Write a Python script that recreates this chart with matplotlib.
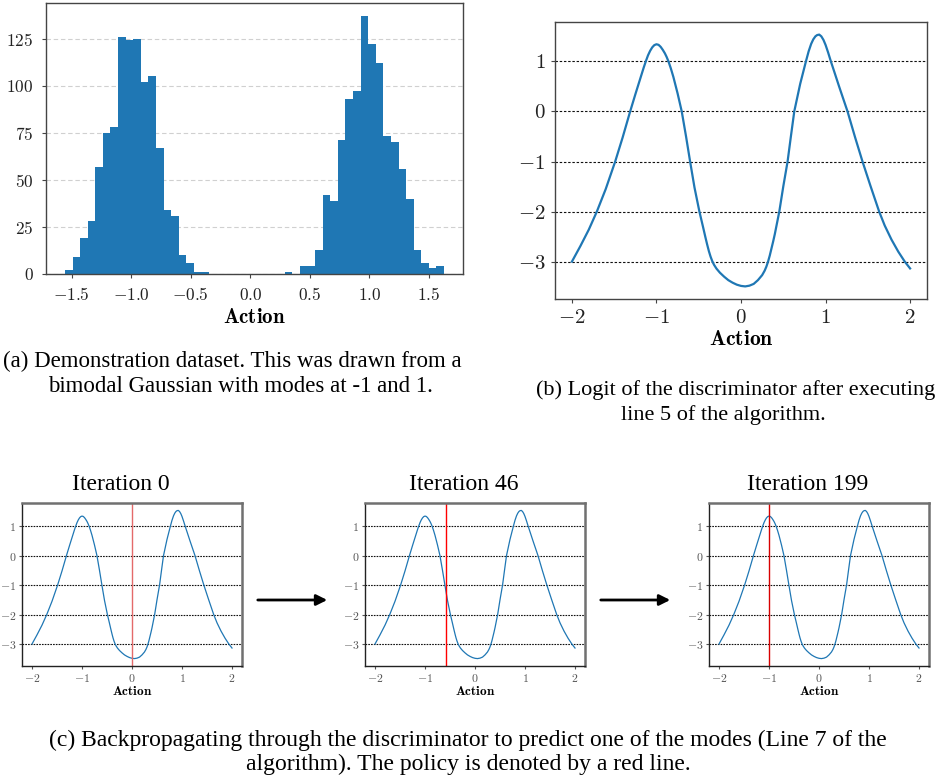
import numpy as np
import matplotlib
matplotlib.use("Agg")
import matplotlib.pyplot as plt


# =========================
# Data
# =========================

# histogram of the demonstration dataset: 50 bins between these edges
BIN_LO = -1.556
BIN_HI = 1.626
HIST_COUNTS = [2, 9, 19, 28, 57, 75, 78, 126, 124, 125, 102, 105, 67, 34, 31, 10, 6, 1, 1,
               0, 0, 0, 0, 0, 0, 0, 0, 0, 0,
               1, 0, 4, 4, 13, 42, 39, 71, 93, 97, 137, 122, 112, 73, 70, 56, 40, 13, 6, 3, 4]
HIST_YTICKS = [0, 25, 50, 75, 100, 125]

# logit of the discriminator
ACTION = [-2.0, -1.9, -1.8, -1.705, -1.6, -1.488, -1.4, -1.311, -1.25, -1.2,
          -1.15, -1.126, -1.1, -1.075, -1.05, -1.025, -1.0, -0.975, -0.95, -0.925,
          -0.9, -0.88, -0.858, -0.83, -0.8, -0.75, -0.701, -0.65, -0.602, -0.55,
          -0.492, -0.45, -0.42, -0.4, -0.38, -0.36, -0.34, -0.32, -0.29, -0.25,
          -0.2, -0.15, -0.1, -0.05, 0.0, 0.05, 0.1, 0.15, 0.2, 0.25,
          0.28, 0.3, 0.32, 0.34, 0.36, 0.38, 0.4, 0.453, 0.5, 0.551,
          0.59, 0.63, 0.7, 0.768, 0.8, 0.83, 0.855, 0.88, 0.9, 0.925,
          0.95, 0.975, 1.0, 1.03, 1.063, 1.1, 1.16, 1.21, 1.26, 1.35,
          1.437, 1.53, 1.634, 1.7, 1.78, 1.86, 1.937, 2.0]
LOGIT = [-3.0, -2.69, -2.36, -2.0, -1.55, -1.0, -0.52, 0.0, 0.34, 0.61,
         0.88, 1.0, 1.12, 1.21, 1.28, 1.325, 1.342, 1.33, 1.29, 1.23,
         1.16, 1.09, 1.0, 0.86, 0.69, 0.36, 0.0, -0.5, -1.0, -1.52,
         -2.0, -2.3, -2.52, -2.66, -2.79, -2.9, -2.99, -3.06, -3.14, -3.22,
         -3.3, -3.37, -3.42, -3.46, -3.485, -3.495, -3.48, -3.445, -3.37, -3.27,
         -3.18, -3.1, -3.0, -2.88, -2.74, -2.6, -2.45, -2.0, -1.5, -1.0,
         -0.5, 0.0, 0.55, 1.0, 1.2, 1.35, 1.44, 1.5, 1.525, 1.535,
         1.5, 1.43, 1.33, 1.18, 1.0, 0.81, 0.5, 0.25, 0.0, -0.52,
         -1.0, -1.48, -2.0, -2.28, -2.56, -2.8, -3.0, -3.136]
LOGIT_YTICKS = [-3, -2, -1, 0, 1]
LOGIT_XTICKS = [-2, -1, 0, 1, 2]

# policy at a few iterations
ITERATIONS = [0, 46, 199]
POLICY = [0.0, -0.58, -1.0]
POLICY_COLORS = ["#e46a6a", "red", "#d80000"]

CAPTION_A = ["(a) Demonstration dataset. This was drawn from a",
             "bimodal Gaussian with modes at -1 and 1."]
CAPTION_B = ["(b) Logit of the discriminator after executing",
             "line 5 of the algorithm."]
CAPTION_C = ["(c) Backpropagating through the discriminator to predict one of the modes (Line 7 of the",
             "algorithm). The policy is denoted by a red line."]

# =========================
# Style
# =========================
plt.rcParams["font.family"] = "serif"
plt.rcParams["font.serif"] = ["cmr10"]
plt.rcParams["mathtext.fontset"] = "cm"
plt.rcParams["axes.formatter.use_mathtext"] = True

W, H = 937, 780
BLUE = "#1f77b4"
CAP_FONT = "Liberation Serif"


def px_axes(fig, left, top, right, bottom):
    return fig.add_axes([left / W, 1 - bottom / H, (right - left) / W, (bottom - top) / H])


def frame(ax, color, lw):
    for s in ax.spines.values():
        s.set_color(color)
        s.set_linewidth(lw)


fig = plt.figure(figsize=(W / 100, H / 100), dpi=100)

# =========================
# (a) histogram
# =========================
ax = px_axes(fig, 46, 3, 463, 274)
edges = np.linspace(BIN_LO, BIN_HI, len(HIST_COUNTS) + 1)
ax.hist(edges[:-1], bins=edges, weights=HIST_COUNTS, color=BLUE, zorder=2)
ax.set_yticks(HIST_YTICKS)
ax.set_xticks([-1.5, -1.0, -0.5, 0.0, 0.5, 1.0, 1.5])
ax.grid(axis="y", color="#d0d0d0", linestyle=(0, (4, 2.5)), linewidth=0.8, zorder=0)
ax.set_axisbelow(True)
ax.tick_params(labelsize=12.5, labelcolor="#222222", color="#444444", length=3, pad=6)
ax.set_xlabel(r"$\mathbf{Action}$", fontsize=15, labelpad=3)
frame(ax, "#444444", 1.0)

for i, line in enumerate(CAPTION_A):
    fig.text([232 / W, 240 / W][i], 1 - [367, 392][i] / H, line, family=CAP_FONT,
             fontsize=16.5, ha="center", va="baseline")

# =========================
# (b) logit of the discriminator
# =========================
ax = px_axes(fig, 555, 22, 927, 299)
ax.plot(ACTION, LOGIT, color=BLUE, linewidth=1.6)
ax.set_xticks(LOGIT_XTICKS)
ax.set_yticks(LOGIT_YTICKS)
ax.grid(axis="y", color="#111111", linestyle=(0, (2.2, 1.6)), linewidth=0.8)
ax.tick_params(labelsize=15, labelcolor="#222222", color="#444444", length=3, pad=4)
ax.set_xlabel(r"$\mathbf{Action}$", fontsize=15.5, labelpad=2)
frame(ax, "#444444", 1.0)

for i, line in enumerate(CAPTION_B):
    fig.text([736 / W, 723 / W][i], 1 - [395, 420][i] / H, line, family=CAP_FONT,
             fontsize=16, ha="center", va="baseline")

# =========================
# (c) policy over iterations
# =========================
lefts = [22, 365, 709]
for k, (it, pol) in enumerate(zip(ITERATIONS, POLICY)):
    left = lefts[k]
    ax = px_axes(fig, left, 503, left + 220, 666)
    ax.plot(ACTION, LOGIT, color=BLUE, linewidth=0.9)
    ax.axvline(pol, color=POLICY_COLORS[k], linewidth=1.0)
    ax.set_xticks(LOGIT_XTICKS)
    ax.set_yticks(LOGIT_YTICKS)
    ax.grid(axis="y", color="#111111", linestyle=(0, (1.5, 1.0)), linewidth=0.8)
    ax.tick_params(labelsize=8.5, labelcolor="#555555", color="#555555", length=2, pad=2)
    ax.set_xlabel(r"$\mathbf{Action}$", fontsize=9.5, labelpad=1)
    frame(ax, "#222222", 1.0)
    ax.spines["top"].set_color("#707070")
    ax.spines["right"].set_color("#707070")
    ax.spines["top"].set_linewidth(1.8)
    ax.spines["right"].set_linewidth(1.8)
    fig.text((left + 99) / W, 1 - 490 / H, "Iteration %d" % it, family=CAP_FONT,
             fontsize=17, ha="center", va="baseline")

# arrows between the panels
for x0, x1 in [(255, 330), (598, 673)]:
    fig.add_artist(matplotlib.patches.FancyArrowPatch(
        (x0 / W, 1 - 600 / H), (x1 / W, 1 - 600 / H), transform=fig.transFigure,
        arrowstyle="-|>", mutation_scale=16, linewidth=2, color="black"))

for i, line in enumerate(CAPTION_C):
    fig.text(468 / W, 1 - [746, 770][i] / H, line, family=CAP_FONT,
             fontsize=17, ha="center", va="baseline")

fig.savefig("out.png", dpi=100)
